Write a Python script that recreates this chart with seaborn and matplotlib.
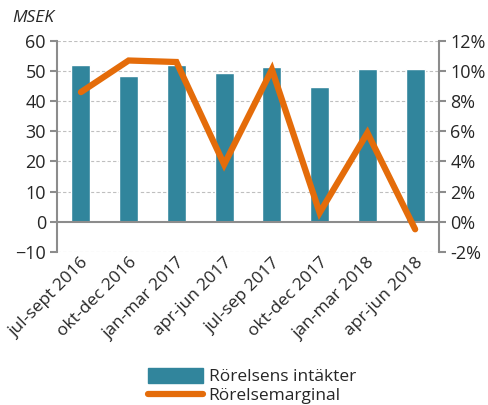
import numpy as np
import matplotlib
matplotlib.use('Agg')
import matplotlib.pyplot as plt
import pandas as pd
import seaborn as sns
from matplotlib.patches import Patch
from matplotlib.lines import Line2D

# data
quarters = ['jul-sept 2016', 'okt-dec 2016', 'jan-mar 2017', 'apr-jun 2017',
            'jul-sep 2017', 'okt-dec 2017', 'jan-mar 2018', 'apr-jun 2018']
intakter = [52.0, 48.2, 52.0, 49.2, 51.4, 44.8, 50.7, 50.8]
marginal = [8.6, 10.7, 10.6, 3.8, 10.1, 0.6, 5.9, -0.5]

sns.set_style('white')
plt.rcParams['font.family'] = ['Open Sans', 'DejaVu Sans']

bar_col = '#31859C'
line_col = '#E46C0A'
grey = '#8C8C8C'

df = pd.DataFrame({'kvartal': quarters, 'intakter': intakter, 'marginal': marginal})

fig = plt.figure(figsize=(4.89, 4.05), dpi=100)
ax = fig.add_axes([0.1166, 0.378, 0.7812, 0.521])

sns.barplot(data=df, x='kvartal', y='intakter', color=bar_col, width=0.4,
            saturation=1, ax=ax)
ax.set_ylim(-10, 60)
ax.set_yticks(range(-10, 61, 10))
ax.set_xlim(-0.5, len(quarters) - 0.5)
ax.set_xlabel('')
ax.set_ylabel('')
for y in [-10, 10, 20, 30, 40, 50, 60]:
    ax.axhline(y, color='#BFBFBF', lw=0.8, ls=(0, (3, 2)), zorder=0)
ax.axhline(0, color=grey, lw=1.5, zorder=3)

ax2 = ax.twinx()
sns.lineplot(x=np.arange(len(quarters)), y=df['marginal'], color=line_col,
             lw=4.5, ax=ax2, solid_capstyle='round', solid_joinstyle='miter')
ax2.set_ylim(-2, 12)
ax2.set_yticks(range(-2, 13, 2))
ax2.set_yticklabels([f'{v}%' for v in range(-2, 13, 2)])
ax2.set_ylabel('')

for a in (ax, ax2):
    for s in ['top', 'bottom']:
        a.spines[s].set_visible(False)
    a.spines['left'].set_color(grey)
    a.spines['right'].set_color(grey)
    a.spines['left'].set_linewidth(1.5)
    a.spines['right'].set_linewidth(1.5)
    a.tick_params(axis='y', length=5, width=1.5, color=grey, labelsize=13, pad=3)
ax.spines['right'].set_visible(False)
ax2.spines['left'].set_visible(False)

ax.tick_params(axis='x', length=0, labelsize=12.5, pad=2)
ax.set_xticks(range(len(quarters)))
ax.set_xticklabels(quarters, rotation=45, ha='right', rotation_mode='anchor')

fig.text(0.025, 0.955, 'MSEK', fontsize=12.5, style='italic', ha='left', va='center')

handles = [Patch(color=bar_col), Line2D([0], [0], color=line_col, lw=4.5, solid_capstyle='round')]
fig.legend(handles, ['Rörelsens intäkter', 'Rörelsemarginal'], loc='lower center',
           bbox_to_anchor=(0.515, -0.037), frameon=False, fontsize=12.5, handlelength=3.2,
           handleheight=0.9, labelspacing=0.1, handletextpad=0.3)

fig.savefig('out.png', dpi=100)
